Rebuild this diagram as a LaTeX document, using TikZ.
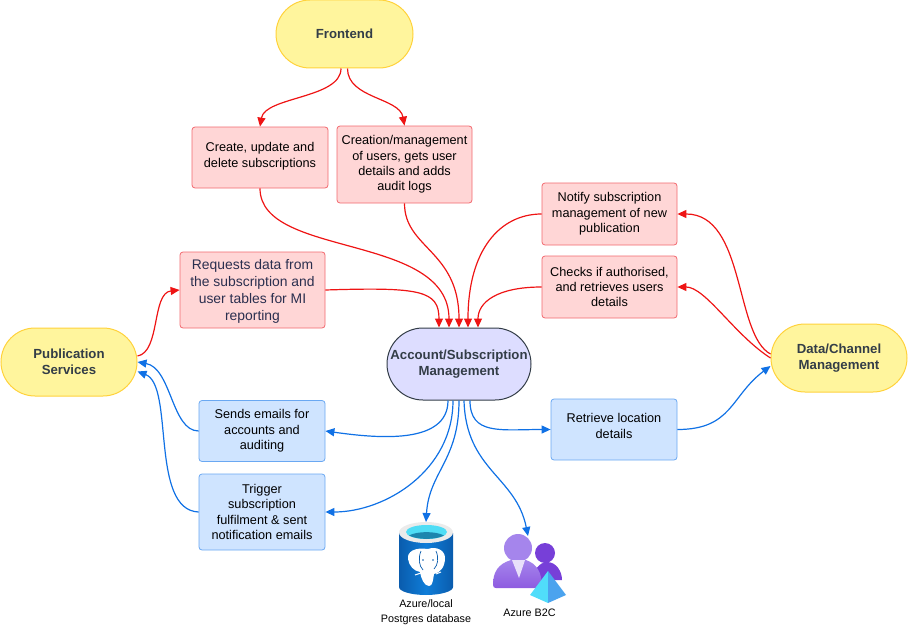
\documentclass[tikz,border=0pt]{standalone}
\usepackage{fontspec}
\setmainfont{Liberation Sans}
\usepackage{xcolor}
\usetikzlibrary{arrows.meta}

\definecolor{redfill}{HTML}{FFD6D6}
\definecolor{reddraw}{HTML}{F2686E}
\definecolor{bluefill}{HTML}{CFE4FF}
\definecolor{bluedraw}{HTML}{6AA8F2}
\definecolor{yelfill}{HTML}{FFF59D}
\definecolor{yeldraw}{HTML}{FFD23C}
\definecolor{purfill}{HTML}{DDDDFF}
\definecolor{darktext}{HTML}{333D47}
\definecolor{navytext}{HTML}{2B2F4F}
\definecolor{redline}{HTML}{EE1414}
\definecolor{blueline}{HTML}{1071E5}
\definecolor{pgside}{HTML}{0A5CAD}
\definecolor{pgmid}{HTML}{0F7DD8}
\definecolor{pgcyan}{HTML}{4FDDF5}
\definecolor{pgdeep}{HTML}{1C86AE}
\definecolor{backuser}{HTML}{773FD8}
\definecolor{frontuser}{HTML}{A585EC}
\definecolor{frontlow}{HTML}{8E5BE0}
\definecolor{collar}{HTML}{E8E0FA}
\definecolor{pyrleft}{HTML}{50DDFA}
\definecolor{pyrright}{HTML}{4BA3EE}

\begin{document}
\begin{tikzpicture}[
  x=1pt, y=-1pt,
  box/.style={draw, rounded corners=3pt, line width=0.8pt, align=center, font=\fontsize{12.7}{15.4}\selectfont, inner sep=0pt},
  redbox/.style={box, fill=redfill, draw=reddraw},
  bluebox/.style={box, fill=bluefill, draw=bluedraw},
  pill/.style={draw, rounded corners=34pt, line width=1pt, align=center, text=darktext, font=\fontsize{13.2}{16}\selectfont\bfseries, inner sep=0pt},
  yelpill/.style={pill, fill=yelfill, draw=yeldraw},
  redarrow/.style={draw=redline, line width=1.2pt, -{Triangle[length=9pt,width=8pt]}},
  bluearrow/.style={draw=blueline, line width=1.2pt, -{Triangle[length=9pt,width=8pt]}},
  iconlabel/.style={font=\fontsize{10.8}{14.5}\selectfont, align=center, inner sep=0pt}]

\useasboundingbox (0,0) rectangle (908,626);

% main services
\node[yelpill, minimum width=137pt, minimum height=68pt] (frontend) at (344.5,34) {Frontend};
\node[yelpill, minimum width=136pt, minimum height=68pt] (pubserv) at (69,362) {Publication\\Services};
\node[yelpill, minimum width=136pt, minimum height=68pt] (datachan) at (839,358) {Data/Channel\\Management};
\node[pill, rounded corners=36pt, fill=purfill, draw=darktext, minimum width=144pt, minimum height=72pt] (account) at (459,364) {Account/Subscription\\Management};

% red boxes
\node[redbox, minimum width=136pt, minimum height=61pt, text depth=5pt] (create) at (260,157.5) {Create, update and\\delete subscriptions};
\node[redbox, minimum width=135pt, minimum height=77pt] (creation) at (404.5,164.5) {Creation/management\\of users, gets user\\details and adds\\audit logs};
\node[redbox, minimum width=135pt, minimum height=62pt] (notify) at (609.5,214) {Notify subscription\\management of new\\publication};
\node[redbox, minimum width=135pt, minimum height=62pt] (checks) at (609.5,287) {Checks if authorised,\\and retrieves users\\details};
\node[redbox, minimum width=145pt, minimum height=76pt, text=navytext, text depth=0pt, font=\fontsize{13.9}{16.7}\selectfont] (requests) at (252.5,290) {Requests data from\\the subscription and\\user tables for MI\\reporting};

% blue boxes
\node[bluebox, minimum width=126pt, minimum height=61pt] (sends) at (262,431) {Sends emails for\\accounts and\\auditing};
\node[bluebox, minimum width=126pt, minimum height=76pt] (trigger) at (262,512) {Trigger\\subscription\\fulfilment \& sent\\notification emails};
\node[bluebox, minimum width=126pt, minimum height=61pt, text depth=7pt] (retrieve) at (614,429.5) {Retrieve location\\details};

% postgres icon
\coordinate (pgtop) at (426,522);
\shade[left color=pgside, right color=pgside, middle color=pgmid]
  (399,533) -- (399,587) arc[start angle=180, end angle=360, x radius=27pt, y radius=8pt] -- (453,533) -- cycle;
\fill[black!8] (426,532.5) ellipse[x radius=27pt, y radius=10.5pt];
\fill[pgcyan] (426.5,532) ellipse[x radius=20.5pt, y radius=7pt];
\fill[pgdeep] (409,535.5) .. controls (417,531) and (436,531) .. (444,535.5) .. controls (436,540) and (417,540) .. (409,535.5) -- cycle;
% elephant
\fill[white] (428,549) .. controls (414,547) and (407,552) .. (408,559) .. controls (409,566) and (414,571) .. (420,572) .. controls (421,578) and (424,586) .. (429,586) .. controls (433,586) and (433,579) .. (434,574) .. controls (440,573) and (445,567) .. (445,558) .. controls (445,550) and (436,546) .. (428,549) -- cycle;
\draw[pgside, line width=0.7pt] (421,551) .. controls (418,558) and (419,566) .. (423,570);
\draw[pgside, line width=0.7pt] (436,551) .. controls (439,558) and (438,565) .. (434,569);
\draw[white, line width=1pt] (415,575) -- (421,573);
\draw[white, line width=1pt] (436,574) -- (441,572);
\fill[pgside] (423,560) circle[radius=0.8pt];
\fill[pgside] (433,560) circle[radius=0.8pt];
\node[iconlabel] (pglabel) at (426,612) {Azure/local\\Postgres database};

% b2c icon
\coordinate (b2ctop) at (528,536);
\fill[backuser] (545,553) circle[radius=10pt];
\fill[backuser] (533,580) .. controls (533,570) and (540,562) .. (547,562) .. controls (556,562) and (562,571) .. (562,580) -- cycle;
\fill[frontuser] (518,548) circle[radius=14pt];
\shade[top color=frontuser, bottom color=frontlow]
  (493,585) .. controls (493,572) and (498,564) .. (511,560) -- (526,560) .. controls (537,564) and (542,572) .. (542,588) -- (496,588) .. controls (494,588) and (493,587) .. (493,585) -- cycle;
\fill[collar] (512,560) -- (525,560) -- (519,578) -- cycle;
\fill[pyrleft] (548,571) -- (530,595) -- (548,603) -- cycle;
\fill[pyrright] (548,571) -- (566,595) -- (548,603) -- cycle;
\node[iconlabel] (b2clabel) at (529.5,613) {Azure B2C};

% red connectors
\draw[redarrow] ([xshift=-3.5pt]frontend.south) .. controls +(0,30) and +(5,-30) .. (create.north);
\draw[redarrow] ([xshift=3pt]frontend.south) .. controls +(0,30) and +(-5,-28) .. (creation.north);
\draw[redarrow] (create.south) .. controls +(0,70) and +(0,-95) .. ([xshift=-10pt]account.north);
\draw[redarrow] (creation.south) .. controls +(0,45) and +(0,-77) .. (account.north);
\draw[redarrow] (requests.east) .. controls +(95,-3) and +(0,-37) .. ([xshift=-20pt]account.north);
\draw[redarrow] (notify.west) .. controls +(-42,0) and +(0,-77) .. ([xshift=9pt]account.north);
\draw[redarrow] (checks.west) .. controls +(-45,0) and +(0,-25) .. ([xshift=19pt]account.north);
\draw[redarrow] ([yshift=4pt]datachan.west) .. controls +(-36,-19) and +(68,0) .. (notify.east);
\draw[redarrow] (datachan.west) .. controls +(-36,-23) and +(28,0) .. (checks.east);
\draw[redarrow] ([yshift=6pt]pubserv.east) .. controls +(23,-4) and +(-28,3) .. (requests.west);

% blue connectors
\draw[bluearrow] (sends.west) .. controls +(-27,0) and +(34,6) .. (pubserv.east);
\draw[bluearrow] (trigger.west) .. controls +(-49,-2) and +(37,14) .. ([yshift=-9.5pt]pubserv.east);
\draw[bluearrow] ([xshift=-11pt]account.south) .. controls +(0,45) and +(50,7) .. (sends.east);
\draw[bluearrow] ([xshift=-6pt]account.south) .. controls +(0,70) and +(60,0) .. (trigger.east);
\draw[bluearrow] (account.south) .. controls +(0,60) and +(3,-50) .. (pgtop);
\draw[bluearrow] ([xshift=5pt]account.south) .. controls +(2,70) and +(-12,-60) .. (b2ctop);
\draw[bluearrow] ([xshift=11pt]account.south) .. controls +(0,35) and +(-50,0) .. (retrieve.west);
\draw[bluearrow] (retrieve.east) .. controls +(55,0) and +(-40,30) .. ([yshift=-8pt]datachan.west);
\end{tikzpicture}
\end{document}
